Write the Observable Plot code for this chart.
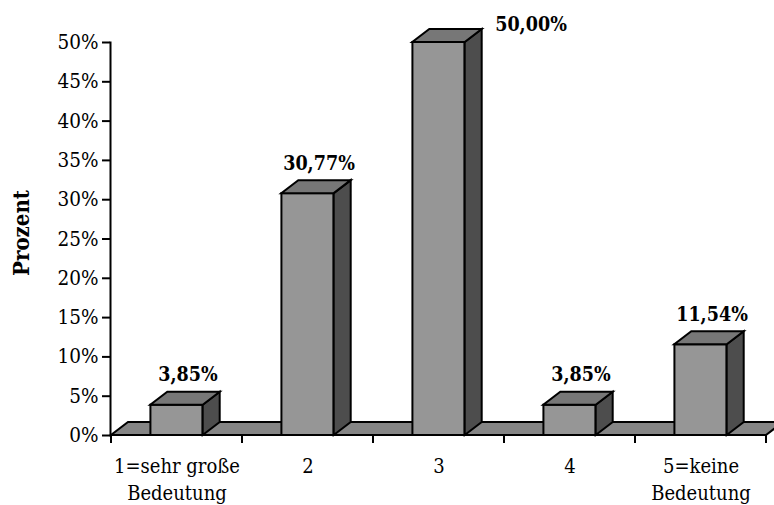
<!DOCTYPE html>
<html>
<head>
<meta charset="utf-8">
<script src="https://cdn.jsdelivr.net/npm/d3@7"></script>
<script src="https://cdn.jsdelivr.net/npm/@observablehq/plot@0.6"></script>
<style>
  html, body { margin: 0; padding: 0; background: #ffffff; }
</style>
</head>
<body>
<div id="chart"></div>
<script>
// ---- data ----
const categories = ["1=sehr große Bedeutung", "2", "3", "4", "5=keine Bedeutung"];
const tickLabels = ["1=sehr große\nBedeutung", "2", "3", "4", "5=keine\nBedeutung"];
const values = [3.85, 30.77, 50.00, 3.85, 11.54];
const yTicks = [0, 5, 10, 15, 20, 25, 30, 35, 40, 45, 50];
const yLabel = "Prozent";

const data = categories.map((c, i) => ({
  category: c,
  value: values[i],
  label: values[i].toFixed(2).replace(".", ",") + "%"
}));

// ---- layout / style ----
const W = 774, H = 505;
const ML = 110, MR = 7, MT = 42, MB = 70;
const DX = 17, DY = 13;            // 3D depth offset (px)
const bwGuess = (W - ML - MR) / categories.length;
const inset = bwGuess * 0.3;
const FRONT = "#969696", TOP = "#777777", SIDE = "#4d4d4d", FLOOR = "#858585";
const FONT = "'DejaVu Serif Condensed', 'DejaVu Serif', serif";

// floor + x tick marks, through the scales
function floorMark(index, scales, vals, dims) {
  const x = scales.x, y = scales.y;
  const bw = x.bandwidth ? x.bandwidth() : bwGuess;
  const y0 = y(0);
  const xl = x(categories[0]);
  const xr = x(categories[categories.length - 1]) + bw;
  const g = d3.create("svg:g");
  g.append("path")
    .attr("d", `M${xl},${y0}L${xr},${y0}L${xr + DX},${y0 - DY}L${xl + DX},${y0 - DY}Z`)
    .attr("fill", FLOOR).attr("stroke", "black").attr("stroke-width", 2);
  const bounds = categories.map(c => x(c)).concat([xr]);
  for (const b of bounds) {
    g.append("line")
      .attr("x1", b).attr("x2", b).attr("y1", y0).attr("y2", y0 + 8)
      .attr("stroke", "black").attr("stroke-width", 2);
  }
  return g.node();
}

// top and side faces of the 3D bars
function facesMark(index, scales, vals, dims) {
  const x = scales.x, y = scales.y;
  const bw = x.bandwidth ? x.bandwidth() : bwGuess;
  const y0 = y(0);
  const g = d3.create("svg:g");
  for (const d of data) {
    const x1 = x(d.category) + bw * 0.3;
    const x2 = x(d.category) + bw * 0.7;
    const yt = y(d.value);
    g.append("path")
      .attr("d", `M${x2},${yt}L${x2 + DX},${yt - DY}L${x2 + DX},${y0 - DY}L${x2},${y0}Z`)
      .attr("fill", SIDE).attr("stroke", "black").attr("stroke-width", 2);
    g.append("path")
      .attr("d", `M${x1},${yt}L${x2},${yt}L${x2 + DX},${yt - DY}L${x1 + DX},${yt - DY}Z`)
      .attr("fill", TOP).attr("stroke", "black").attr("stroke-width", 2);
  }
  return g.node();
}

const maxVal = d3.max(values);

const chart = Plot.plot({
  width: W,
  height: H,
  marginLeft: ML,
  marginRight: MR,
  marginTop: MT,
  marginBottom: MB,
  style: { fontFamily: FONT, fontStretch: "condensed", background: "#ffffff", color: "black" },
  x: { type: "band", domain: categories, padding: 0, label: null },
  y: { domain: [0, 50], label: null },
  marks: [
    floorMark,
    Plot.barY(data, {
      x: "category", y: "value",
      fill: FRONT, stroke: "black", strokeWidth: 2,
      insetLeft: inset, insetRight: inset
    }),
    facesMark,
    Plot.text(data.filter(d => d.value < maxVal), {
      x: "category", y: "value", text: "label",
      dx: 11, dy: -24, lineAnchor: "bottom",
      fontWeight: "bold", fontSize: 19.5, fill: "black"
    }),
    Plot.text(data.filter(d => d.value >= maxVal), {
      x: "category", y: "value", text: "label",
      dx: 92, dy: -12, lineAnchor: "bottom",
      fontWeight: "bold", fontSize: 19.5, fill: "black"
    }),
    Plot.axisY({
      ticks: yTicks, tickFormat: d => d + "%",
      tickSize: 8, tickPadding: 4, strokeWidth: 2,
      fontSize: 20.5, label: null, stroke: "black", fill: "black"
    }),
    Plot.axisX({
      tickSize: 0, tickPadding: 18,
      tickFormat: d => tickLabels[categories.indexOf(d)],
      fontSize: 20, lineHeight: 1.35, label: null, fill: "black"
    }),
    Plot.frame({ anchor: "left", stroke: "black", strokeWidth: 2 }),
    Plot.text([yLabel], {
      frameAnchor: "left", textAnchor: "middle", rotate: -90, dx: -89, dy: -6,
      fontWeight: "bold", fontSize: 22, fill: "black"
    })
  ]
});

document.getElementById("chart").appendChild(chart);
</script>
</body>
</html>
